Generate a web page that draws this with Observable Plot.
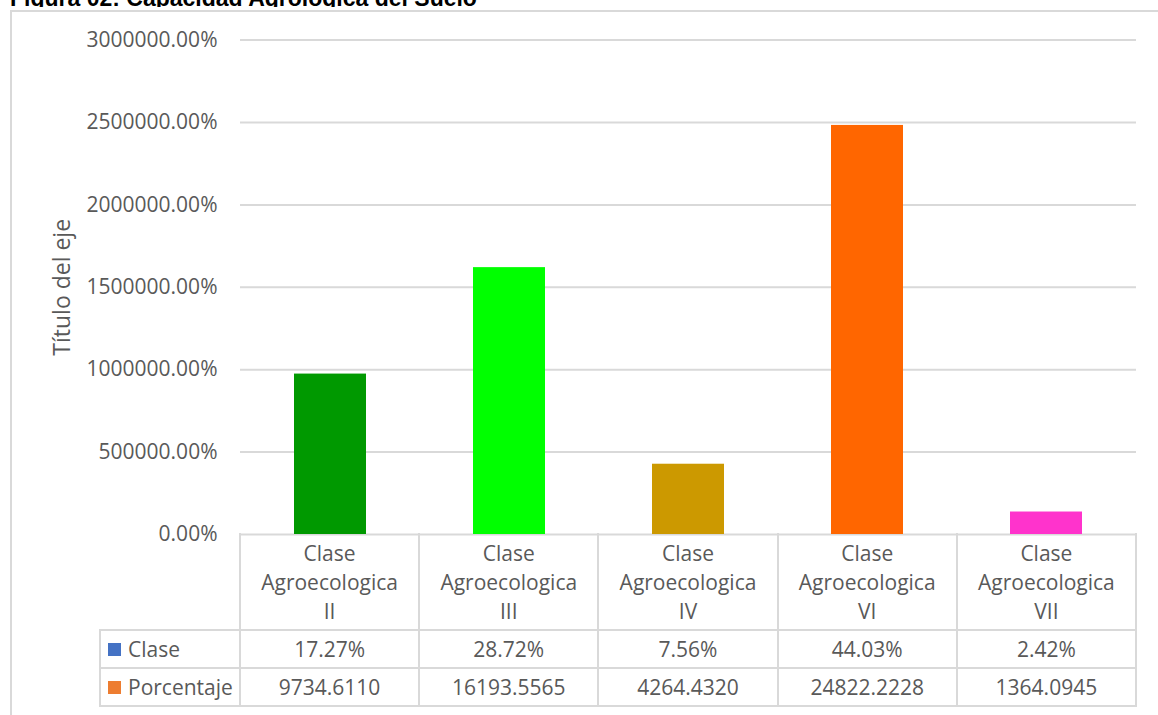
<!DOCTYPE html>
<html>
<head>
<meta charset="utf-8">
<script src="https://cdn.jsdelivr.net/npm/d3@7"></script>
<script src="https://cdn.jsdelivr.net/npm/@observablehq/plot@0.6"></script>
<style>
  html, body { margin: 0; padding: 0; background: #fff; }
  #wrap { position: relative; width: 1158px; height: 715px; overflow: hidden; background: #fff; }
  #title { position: absolute; left: 10px; top: -13px; font: bold 23px/23px "Liberation Sans", Arial, sans-serif; color: #000; white-space: nowrap; }
  #cover { position: absolute; left: 0; top: 7px; width: 1158px; height: 708px; background: #fff; }
  .ln { position: absolute; background: #d9d9d9; }
  .cell { position: absolute; display: flex; align-items: center; justify-content: center; text-align: center;
          font-family: "Open Sans", sans-serif; font-size: 21px; color: #595959; white-space: nowrap; }
  .hdr { line-height: 29px; flex-direction: column; }
  .key { position: absolute; width: 13px; height: 13px; }
  .lab { position: absolute; font-family: "Open Sans", sans-serif; font-size: 21px; color: #595959; display: flex; align-items: center; white-space: nowrap; }
  #chart { position: absolute; left: 0; top: 0; }
  .ytitle text { font-size: 23px; }
</style>
</head>
<body>
<div id="wrap">
  <div id="title">Figura 02: Capacidad Agrologica del Suelo</div>
  <div id="cover"></div>
  <div class="ln" style="left:10px;top:10px;width:2px;height:710px"></div>
  <div class="ln" style="left:10px;top:10px;width:1150px;height:2px"></div>
  <div id="chart"></div>
</div>
<script>
// ---- data ----
const categories = ["Clase Agroecologica II", "Clase Agroecologica III", "Clase Agroecologica IV", "Clase Agroecologica VI", "Clase Agroecologica VII"];
const clase = [0.1727, 0.2872, 0.0756, 0.4403, 0.0242];
const porcentaje = [9734.6110, 16193.5565, 4264.4320, 24822.2228, 1364.0945];
const barColors = ["#009900", "#00FF00", "#CC9900", "#FF6600", "#FF33CC"];
const seriesNames = ["Clase", "Porcentaje"];
const seriesColors = ["#4472C4", "#ED7D31"];
const yTicks = [0, 5000, 10000, 15000, 20000, 25000, 30000];
const yTitle = "Título del eje";

const data = categories.map((c, i) => ({cat: c, value: porcentaje[i]}));
const pct = v => (v * 100).toFixed(2) + "%";

const chart = Plot.plot({
  width: 1158,
  height: 715,
  marginLeft: 240,
  marginRight: 22,
  marginTop: 39.6,
  marginBottom: 181,
  style: {fontFamily: "'Open Sans', sans-serif", fontSize: "21px", color: "#595959", background: "transparent", overflow: "visible"},
  x: {domain: categories, paddingInner: 0.6, paddingOuter: 0.3, axis: null},
  y: {domain: [0, 30000], ticks: yTicks, tickFormat: pct, tickSize: 0, tickPadding: 23, label: null},
  color: {domain: categories, range: barColors},
  marks: [
    Plot.ruleY(yTicks, {stroke: "#d9d9d9", strokeWidth: 2}),
    Plot.barY(data, {x: "cat", y: "value", fill: "cat"}),
    Plot.text([yTitle], {frameAnchor: "left", textAnchor: "middle", rotate: -90, dx: -178, text: d => d, fill: "#595959", fontSize: 23, className: "ytitle"})
  ]
});
document.getElementById("chart").appendChild(chart);

// ---- data table below the plot, positioned with Plot's x scale ----
const xs = chart.scale("x");
const band = d3.scaleBand().domain(xs.domain).range(xs.range)
  .paddingInner(xs.paddingInner).paddingOuter(xs.paddingOuter).align(xs.align ?? 0.5);
const step = band.step();
const edges = categories.map(c => band(c) + band.bandwidth() / 2 - step / 2);
edges.push(edges[edges.length - 1] + step);
const yS = chart.scale("y");
const y0 = yS.range[0];
const hdrBottom = y0 + 96, row1Bottom = hdrBottom + 38, row2Bottom = row1Bottom + 38;
const tableLeft = 100;
const wrap = document.getElementById("wrap");
function add(cls, style, html) {
  const d = document.createElement("div");
  d.className = cls;
  Object.assign(d.style, style);
  if (html != null) d.innerHTML = html;
  wrap.appendChild(d);
  return d;
}
const right = edges[edges.length - 1];
// horizontal lines
[hdrBottom, row1Bottom, row2Bottom].forEach(y => add("ln", {left: (tableLeft - 1) + "px", top: (y - 1) + "px", width: (right - tableLeft + 2) + "px", height: "2px"}));
// vertical lines
edges.forEach(x => add("ln", {left: (x - 1) + "px", top: (y0 - 1) + "px", width: "2px", height: (row2Bottom - y0 + 1) + "px"}));
add("ln", {left: (tableLeft - 1) + "px", top: (hdrBottom - 1) + "px", width: "2px", height: (row2Bottom - hdrBottom + 1) + "px"});
// header cells
categories.forEach((c, i) => {
  const parts = c.split(" ");
  add("cell hdr", {left: edges[i] + "px", top: y0 + "px", width: step + "px", height: (hdrBottom - y0) + "px"},
      parts.map(p => `<span>${p}</span>`).join(""));
  add("cell", {left: edges[i] + "px", top: hdrBottom + "px", width: step + "px", height: (row1Bottom - hdrBottom) + "px"}, pct(clase[i]));
  add("cell", {left: edges[i] + "px", top: row1Bottom + "px", width: step + "px", height: (row2Bottom - row1Bottom) + "px"}, porcentaje[i].toFixed(4));
});
// row headers with legend keys
[[hdrBottom, row1Bottom], [row1Bottom, row2Bottom]].forEach(([t, b], i) => {
  add("key", {left: "108px", top: ((t + b) / 2 - 6.5) + "px", background: seriesColors[i]});
  add("lab", {left: "128px", top: t + "px", height: (b - t) + "px"}, seriesNames[i]);
});
</script>
</body>
</html>
